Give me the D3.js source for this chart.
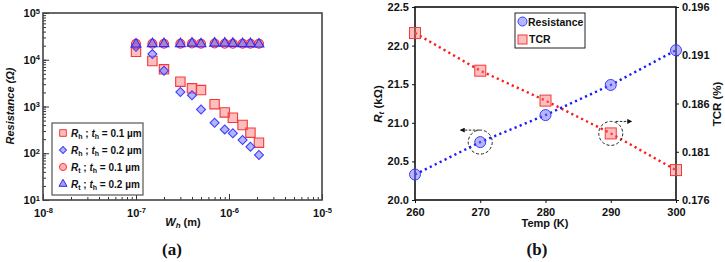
<!DOCTYPE html>
<html>
<head>
<meta charset="utf-8">
<script src="https://cdn.jsdelivr.net/npm/d3@7"></script>
<style>
  body { margin: 0; background: #fff; }
  svg { font-family: Arial, "Liberation Sans", sans-serif; }
  .tick text { font-weight: bold; font-size: 11px; fill: #111; }
</style>
</head>
<body>
<svg id="chart" width="725" height="262"></svg>
<script>
// panel (a) data
const widthsM = [1e-7, 1.5e-7, 2e-7, 3e-7, 4e-7, 5e-7, 7e-7, 9e-7, 1.1e-6, 1.4e-6, 1.7e-6, 2.1e-6];
const rhThin = [14800, 9400, 6250, 3400, 2450, 2250, 1120, 745, 575, 402, 275, 168];
const rhThick = [19000, 13200, 5800, 2040, 1740, 860, 450, 324, 267, 192, 138, 92];
const rtThin = [21800, 22000, 22000, 22000, 22300, 22000, 22300, 22000, 22000, 22000, 22000, 22000];
const rtThick = [21500, 22000, 22000, 22000, 22500, 21800, 22500, 22500, 22200, 22000, 22000, 21500];
const xDecades = [1e-8, 1e-7, 1e-6, 1e-5];
const yDecades = [1e1, 1e2, 1e3, 1e4, 1e5];

// panel (b) data
const temps = [260, 270, 280, 290, 300];
const resistanceK = [20.33, 20.75, 21.10, 21.49, 21.94];
const tcrPct = [0.1933, 0.1894, 0.1863, 0.1829, 0.1791];
const leftTicks = [20.0, 20.5, 21.0, 21.5, 22.0, 22.5];
const rightTicks = [0.176, 0.181, 0.186, 0.191, 0.196];

const svg = d3.select('#chart');

// ---------- panel (a) ----------
const xa = d3.scaleLog().domain([1e-8, 1e-5]).range([43, 322]);
const ya = d3.scaleLog().domain([1e1, 1e5]).range([200, 13]);

const ga = svg.append('g');

// minor ticks
ga.append('g')
  .attr('transform', 'translate(0,200)')
  .call(d3.axisBottom(xa).tickSize(-3).tickFormat(''))
  .call(g => g.select('.domain').remove());
ga.append('g')
  .attr('transform', 'translate(43,0)')
  .call(d3.axisLeft(ya).tickSize(-3).tickFormat(''))
  .call(g => g.select('.domain').remove());

// major ticks with 10^n labels
function powLabel(sel) {
  sel.selectAll('.tick text').each(function (d) {
    const t = d3.select(this).text('');
    t.append('tspan').text('10');
    t.append('tspan').attr('dy', '-0.45em').attr('font-size', '7.5px').text(Math.round(Math.log10(d)));
  });
}
ga.append('g')
  .attr('transform', 'translate(0,200)')
  .call(d3.axisBottom(xa).tickValues(xDecades).tickSize(-6).tickPadding(9))
  .call(powLabel)
  .call(g => g.select('.domain').remove());
ga.append('g')
  .attr('transform', 'translate(43,0)')
  .call(d3.axisLeft(ya).tickValues(yDecades).tickSize(-6).tickPadding(3))
  .call(powLabel)
  .call(g => g.select('.domain').remove());
ga.selectAll('.tick line').attr('stroke', '#333');

ga.append('rect')
  .attr('x', 43).attr('y', 13).attr('width', 279).attr('height', 187)
  .attr('fill', 'none').attr('stroke', '#444').attr('stroke-width', 1.6);

const squareSym = d3.symbol().type(d3.symbolSquare).size(88);
const diamondSym = d3.symbol().type(d3.symbolSquare).size(40);
const circleSym = d3.symbol().type(d3.symbolCircle).size(64);
const triSym = d3.symbol().type(d3.symbolTriangle).size(42);

const seriesA = [
  { vals: rhThin, sym: squareSym, rot: 0, fill: 'rgba(255,110,110,0.45)', stroke: '#f23a3a' },
  { vals: rhThick, sym: diamondSym, rot: 45, fill: 'rgba(120,120,255,0.55)', stroke: '#3d3dff' },
  { vals: rtThin, sym: circleSym, rot: 0, fill: 'rgba(255,120,120,0.55)', stroke: '#ff3030' },
  { vals: rtThick, sym: triSym, rot: 0, fill: 'rgba(140,110,220,0.7)', stroke: '#2a2aff' }
];
seriesA.forEach(s => {
  ga.append('g').selectAll('path')
    .data(widthsM.map((w, i) => [w, s.vals[i]]))
    .join('path')
    .attr('d', s.sym)
    .attr('transform', d => `translate(${xa(d[0])},${ya(d[1])}) rotate(${s.rot})`)
    .attr('fill', s.fill)
    .attr('stroke', s.stroke)
    .attr('stroke-width', 1.1);
});

// legend (a)
const legA = ga.append('g');
legA.append('rect')
  .attr('x', 52).attr('y', 123).attr('width', 91).attr('height', 72)
  .attr('fill', '#fff').attr('stroke', '#555').attr('stroke-width', 1.2);
const legItems = [
  { s: 0, label: 'h', t: '0.1' },
  { s: 1, label: 'h', t: '0.2' },
  { s: 2, label: 't', t: '0.1' },
  { s: 3, label: 't', t: '0.2' }
];
legItems.forEach((it, i) => {
  const y = 133 + i * 17;
  const s = seriesA[it.s];
  legA.append('path')
    .attr('d', it.s === 0 ? d3.symbol().type(d3.symbolSquare).size(44)() :
      it.s === 1 ? d3.symbol().type(d3.symbolSquare).size(24)() :
      it.s === 2 ? d3.symbol().type(d3.symbolCircle).size(40)() : d3.symbol().type(d3.symbolTriangle).size(28)())
    .attr('transform', `translate(63,${y}) rotate(${s.rot})`)
    .attr('fill', s.fill).attr('stroke', s.stroke).attr('stroke-width', 1);
  const tx = legA.append('text').attr('x', 71).attr('y', y + 3.5)
    .attr('font-size', '10px').attr('font-weight', 'bold').attr('fill', '#111');
  tx.append('tspan').attr('font-style', 'italic').text('R');
  tx.append('tspan').attr('font-size', '7px').attr('dy', '2').text(it.label);
  tx.append('tspan').attr('dy', '-2').text(' ; ');
  tx.append('tspan').attr('font-style', 'italic').text('t');
  tx.append('tspan').attr('font-size', '7px').attr('dy', '2').text('h');
  tx.append('tspan').attr('dy', '-2').text(` = ${it.t} µm`);
});

// axis titles (a)
ga.append('text')
  .attr('transform', 'translate(14,106) rotate(-90)')
  .attr('text-anchor', 'middle').attr('font-size', '11px')
  .attr('font-weight', 'bold').attr('font-style', 'italic').attr('fill', '#111')
  .text('Resistance (Ω)');
const xt = ga.append('text').attr('x', 183).attr('y', 226)
  .attr('text-anchor', 'middle').attr('font-size', '11px').attr('font-weight', 'bold').attr('fill', '#111');
xt.append('tspan').attr('font-style', 'italic').text('W');
xt.append('tspan').attr('font-style', 'italic').attr('font-size', '8px').attr('dy', '2').text('h');
xt.append('tspan').attr('dy', '-2').text(' (m)');

svg.append('text').attr('x', 172).attr('y', 255).attr('text-anchor', 'middle')
  .attr('font-family', '"Liberation Serif", "DejaVu Serif", serif').attr('font-size', '17px')
  .attr('font-weight', 'bold').attr('fill', '#111').text('(a)');

// ---------- panel (b) ----------
const xb = d3.scaleLinear().domain([260, 300]).range([415, 676]);
const yl = d3.scaleLinear().domain([20, 22.5]).range([200, 7]);
const yr = d3.scaleLinear().domain([0.176, 0.196]).range([200, 7]);

const gb = svg.append('g');
gb.append('g').attr('transform', 'translate(0,200)')
  .call(d3.axisBottom(xb).tickValues(temps).tickSize(3).tickPadding(5).tickFormat(d3.format('d')))
  .call(g => g.select('.domain').remove());
gb.append('g').attr('transform', 'translate(415,0)')
  .call(d3.axisLeft(yl).tickValues(leftTicks).tickSize(3).tickPadding(3).tickFormat(d3.format('.1f')))
  .call(g => g.select('.domain').remove());
gb.append('g').attr('transform', 'translate(676,0)')
  .call(d3.axisRight(yr).tickValues(rightTicks).tickSize(3).tickPadding(3).tickFormat(d3.format('.3f')))
  .call(g => g.select('.domain').remove());
gb.selectAll('.tick line').attr('stroke', '#111');

gb.append('rect')
  .attr('x', 415).attr('y', 7).attr('width', 261).attr('height', 193)
  .attr('fill', 'none').attr('stroke', '#111').attr('stroke-width', 1.6);

const lineR = d3.line().x((d, i) => xb(temps[i])).y(d => yl(d));
const lineT = d3.line().x((d, i) => xb(temps[i])).y(d => yr(d));

gb.append('path').attr('d', lineT(tcrPct))
  .attr('fill', 'none').attr('stroke', '#ff1a1a').attr('stroke-width', 2.4)
  .attr('stroke-dasharray', '2.2,3.3');
gb.append('path').attr('d', lineR(resistanceK))
  .attr('fill', 'none').attr('stroke', '#1a1aff').attr('stroke-width', 2.4)
  .attr('stroke-dasharray', '2.2,3.3');

gb.append('g').selectAll('rect')
  .data(tcrPct)
  .join('rect')
  .attr('x', (d, i) => xb(temps[i]) - 5.5)
  .attr('y', d => yr(d) - 5.5)
  .attr('width', 11).attr('height', 11)
  .attr('fill', 'rgba(255,110,110,0.45)').attr('stroke', '#f03a3a').attr('stroke-width', 1);
gb.append('g').selectAll('circle')
  .data(resistanceK)
  .join('circle')
  .attr('cx', (d, i) => xb(temps[i]))
  .attr('cy', d => yl(d))
  .attr('r', 5.5)
  .attr('fill', 'rgba(110,110,255,0.5)').attr('stroke', '#3a3aff').attr('stroke-width', 1);

// dashed call-outs with arrows
svg.append('defs').append('marker')
  .attr('id', 'arr').attr('viewBox', '0 0 10 10').attr('refX', 9).attr('refY', 5)
  .attr('markerWidth', 5).attr('markerHeight', 5).attr('orient', 'auto')
  .append('path').attr('d', 'M0,0L10,5L0,10z').attr('fill', '#111');

const callouts = [
  { cx: xb(temps[1]), cy: yl(resistanceK[1]), ax1: xb(temps[1]) - 1, ax2: xb(temps[1]) - 20, ay: yl(resistanceK[1]) - 12 },
  { cx: xb(temps[3]), cy: yr(tcrPct[3]), ax1: xb(temps[3]) + 5, ax2: xb(temps[3]) + 21, ay: yr(tcrPct[3]) - 12 }
];
callouts.forEach(c => {
  gb.append('circle').attr('cx', c.cx).attr('cy', c.cy).attr('r', 12)
    .attr('fill', 'none').attr('stroke', '#222').attr('stroke-width', 1)
    .attr('stroke-dasharray', '3,2');
  gb.append('line').attr('x1', c.ax1).attr('x2', c.ax2).attr('y1', c.ay).attr('y2', c.ay)
    .attr('stroke', '#222').attr('stroke-width', 1).attr('stroke-dasharray', '2.5,1.5')
    .attr('marker-end', 'url(#arr)');
});

// legend (b)
const legB = gb.append('g');
legB.append('rect').attr('x', 515).attr('y', 13).attr('width', 70).attr('height', 35)
  .attr('fill', '#fff').attr('stroke', '#222').attr('stroke-width', 1);
legB.append('circle').attr('cx', 522.5).attr('cy', 21.5).attr('r', 4.5)
  .attr('fill', 'rgba(110,110,255,0.5)').attr('stroke', '#3a3aff');
legB.append('rect').attr('x', 518).attr('y', 35).attr('width', 9).attr('height', 9)
  .attr('fill', 'rgba(255,110,110,0.45)').attr('stroke', '#f03a3a');
legB.append('text').attr('x', 528).attr('y', 25.5).attr('font-size', '10.5px')
  .attr('font-weight', 'bold').attr('fill', '#111').text('Resistance');
legB.append('text').attr('x', 529).attr('y', 43).attr('font-size', '10.5px')
  .attr('font-weight', 'bold').attr('fill', '#111').text('TCR');

// axis titles (b)
const yt = gb.append('text').attr('transform', 'translate(382,104) rotate(-90)')
  .attr('text-anchor', 'middle').attr('font-size', '11.5px').attr('font-weight', 'bold').attr('fill', '#111');
yt.append('tspan').attr('font-style', 'italic').text('R');
yt.append('tspan').attr('font-style', 'italic').attr('font-size', '8px').attr('dy', '2').text('t');
yt.append('tspan').attr('dy', '-2').text(' (kΩ)');
gb.append('text').attr('transform', 'translate(721,104) rotate(-90)')
  .attr('text-anchor', 'middle').attr('font-size', '11.5px').attr('font-weight', 'bold').attr('fill', '#111')
  .text('TCR (%)');
gb.append('text').attr('x', 545).attr('y', 227).attr('text-anchor', 'middle')
  .attr('font-size', '11px').attr('font-weight', 'bold').attr('fill', '#111').text('Temp (K)');

svg.append('text').attr('x', 537).attr('y', 255).attr('text-anchor', 'middle')
  .attr('font-family', '"Liberation Serif", "DejaVu Serif", serif').attr('font-size', '17px')
  .attr('font-weight', 'bold').attr('fill', '#111').text('(b)');
</script>
</body>
</html>
